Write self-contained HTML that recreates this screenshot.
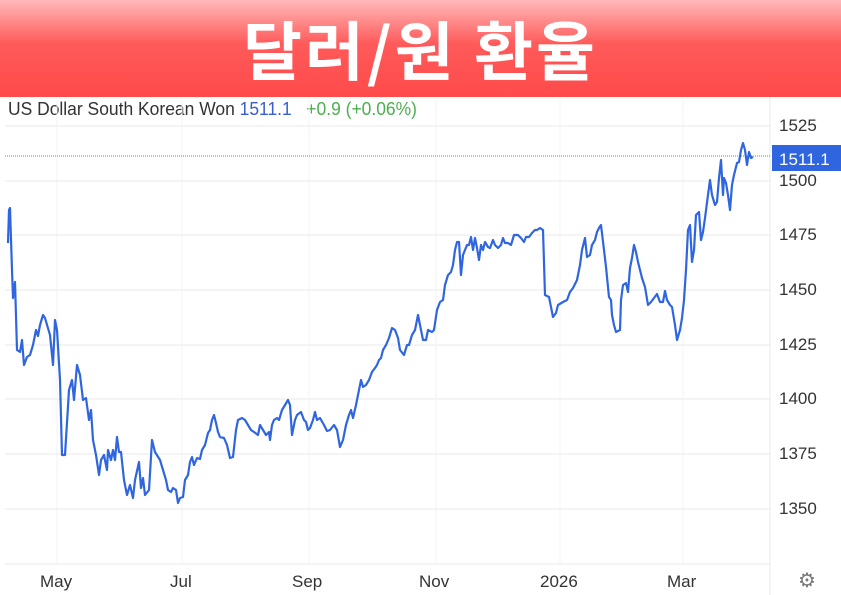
<!DOCTYPE html><html><head><meta charset="utf-8"><style>
body{margin:0;width:841px;height:595px;background:#fff;position:relative;overflow:hidden;font-family:"Liberation Sans",Arial,sans-serif}
.hdr{position:absolute;left:0;top:0;width:841px;height:97px;background:linear-gradient(#ffb9b9 0%,#ff5a5a 45%,#ff4a4a 100%);text-align:center;color:#fff;font:bold 64px "Noto Sans CJK KR","NanumGothic",sans-serif;line-height:97px;letter-spacing:3px}
.t{position:absolute;font-size:18px;color:#333;transform:scaleX(0.97);transform-origin:left}
.yl{position:absolute;left:779px;font-size:17px;color:#333}
.xl{position:absolute;top:572px;font-size:17px;color:#333}
</style></head><body>
<div class="hdr">달러/원 환율</div>
<div class="t" style="left:8px;top:99px">US Dollar South Korean Won <span style="color:#3a5fcd">1511.1</span> &nbsp; <span style="color:#4caf50">+0.9 (+0.06%)</span></div>
<svg style="position:absolute;left:0;top:0" width="841" height="595">
<g stroke="#e8e8e8" stroke-width="1">
<line x1="5" y1="126" x2="770" y2="126"/><line x1="5" y1="181" x2="770" y2="181"/><line x1="5" y1="235" x2="770" y2="235"/><line x1="5" y1="290" x2="770" y2="290"/><line x1="5" y1="345" x2="770" y2="345"/><line x1="5" y1="399" x2="770" y2="399"/><line x1="5" y1="454" x2="770" y2="454"/><line x1="5" y1="509" x2="770" y2="509"/><line x1="5" y1="564" x2="770" y2="564"/>
</g>
<g stroke="#f3f3f3"><line x1="57" y1="100" x2="57" y2="564"/><line x1="182" y1="100" x2="182" y2="564"/><line x1="309" y1="100" x2="309" y2="564"/><line x1="436" y1="100" x2="436" y2="564"/><line x1="560" y1="100" x2="560" y2="564"/><line x1="683" y1="100" x2="683" y2="564"/></g>
<line x1="770" y1="97" x2="770" y2="595" stroke="#e8e8e8"/>
<line x1="5" y1="156" x2="770" y2="156" stroke="#6a7fc0" stroke-dasharray="1,1"/>
<polyline fill="none" stroke="#2f66e0" stroke-width="2.2" stroke-linejoin="round" points="8,243 9,210 10,208 12,270 13,298 15,282 17,350 20,352 22,340 24,365 27,357 30,355 33,345 36,330 38,336 40,325 43,315 45,318 50,335 53,365 55,320 57,330 60,380 62,455 65,455 69,390 72,380 74,400 77,365 80,375 83,400 86,398 89,420 91,410 93,440 96,455 99,475 101,460 104,455 107,470 108,450 111,460 113,450 115,460 117,437 119,452 121,452 124,480 126,490 127,495 130,485 133,498 135,480 139,462 141,488 143,478 145,495 149,490 152,440 155,452 160,460 163,470 166,480 168,490 171,492 173,488 176,490 178,503 180,498 183,497 185,480 188,475 190,462 192,457 194,465 197,458 200,459 202,450 205,445 208,433 210,430 212,420 214,415 216,423 218,432 220,437 224,438 227,445 230,458 233,457 236,430 238,420 242,418 245,420 248,425 251,430 254,432 258,435 260,425 263,430 266,435 269,432 270,440 272,425 274,420 277,418 279,420 282,410 285,405 288,400 290,405 292,435 295,420 297,415 301,412 304,420 306,422 308,430 310,428 313,420 315,412 317,420 320,418 324,425 327,431 330,430 334,425 337,430 340,447 343,440 346,425 349,415 351,410 353,418 356,405 358,395 361,380 363,387 366,385 369,380 372,372 375,368 377,365 379,360 381,358 383,350 386,345 389,338 392,328 395,330 398,338 400,350 404,355 407,345 409,345 412,335 415,330 418,315 421,330 423,340 426,340 428,330 432,332 434,330 437,310 440,302 443,300 445,285 448,275 451,272 453,265 455,250 457,242 459,242 461,275 463,255 465,250 467,245 469,245 471,237 473,250 475,238 477,248 479,260 481,245 483,250 485,242 488,247 490,248 493,240 495,245 498,248 501,245 503,238 505,243 508,243 511,245 514,235 516,235 518,235 521,238 524,242 526,237 529,237 532,233 535,230 537,230 540,228 543,230 545,295 549,297 551,307 553,317 556,313 558,305 563,302 567,300 570,292 573,288 577,280 580,265 582,250 585,238 587,257 590,255 592,245 595,240 597,232 599,228 601,225 604,250 606,267 609,297 611,300 612,315 614,325 616,332 620,330 621,300 623,285 626,283 628,292 630,268 632,258 634,245 636,252 638,262 642,278 645,287 648,305 651,302 654,298 657,294 660,302 663,302 665,291 667,300 670,305 672,307 675,325 677,340 680,330 682,318 684,300 686,270 688,230 690,225 692,262 694,250 696,215 699,212 701,240 703,232 705,218 708,195 710,180 712,195 715,205 717,202 719,178 721,160 723,195 724,178 726,183 728,195 730,210 732,185 734,175 737,163 739,162 741,150 743,143 745,150 747,165 749,152 751,158 753,157"/>
<rect x="772" y="145" width="69" height="26" fill="#2f66e0"/>
<text x="779" y="165" fill="#fff" font-size="17" font-family="Liberation Sans,sans-serif">1511.1</text>
<text x="807" y="587" text-anchor="middle" font-size="20" fill="#777">⚙</text>
</svg>
<div class="yl" style="top:116px">1525</div>
<div class="yl" style="top:171px">1500</div>
<div class="yl" style="top:225px">1475</div>
<div class="yl" style="top:280px">1450</div>
<div class="yl" style="top:335px">1425</div>
<div class="yl" style="top:389px">1400</div>
<div class="yl" style="top:444px">1375</div>
<div class="yl" style="top:499px">1350</div>
<div class="xl" style="left:40px">May</div>
<div class="xl" style="left:170px">Jul</div>
<div class="xl" style="left:292px">Sep</div>
<div class="xl" style="left:419px">Nov</div>
<div class="xl" style="left:540px">2026</div>
<div class="xl" style="left:667px">Mar</div>
</body></html>
